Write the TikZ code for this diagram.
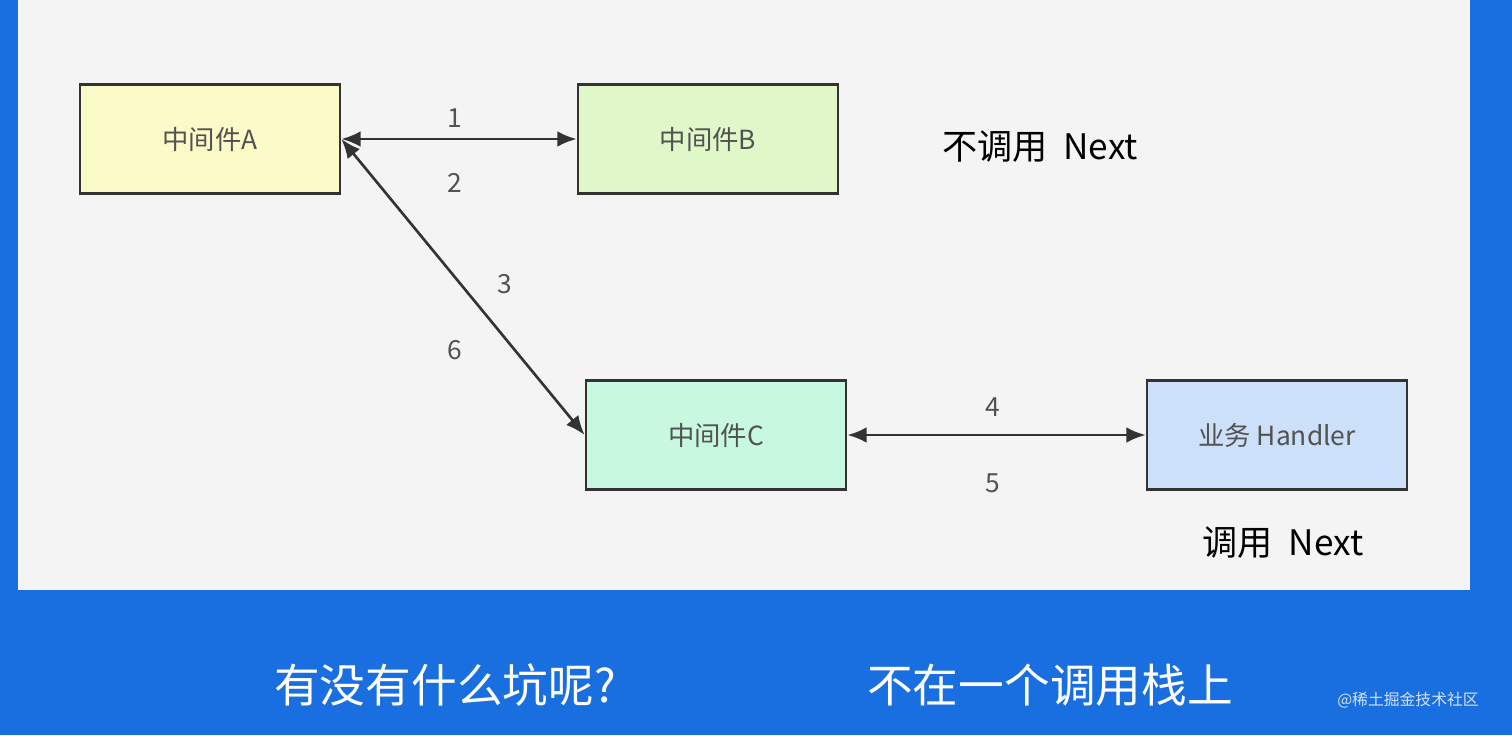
\documentclass[tikz,border=0pt]{standalone}
\usepackage{fontspec}
\setmainfont{Noto Sans CJK SC}
\usetikzlibrary{arrows.meta}
\definecolor{bgblue}{HTML}{1A6FE0}
\definecolor{panel}{HTML}{F4F4F4}
\definecolor{yelA}{HTML}{FBFBC8}
\definecolor{grnB}{HTML}{E0F8C8}
\definecolor{grnC}{HTML}{C8F8E0}
\definecolor{bluH}{HTML}{CCE0FA}
\definecolor{txt}{HTML}{333333}
\tikzset{
  mw/.style={draw=txt, line width=1.6pt, minimum width=5.2cm, minimum height=2.18cm, font=\fontsize{15}{18}\selectfont, text=txt!85},
  link/.style={line width=1.5pt, draw=txt, {Latex[length=11pt,width=9pt]}-{Latex[length=11pt,width=9pt]}},
  num/.style={font=\fontsize{15}{18}\selectfont, text=txt!85}
}
\begin{document}
\begin{tikzpicture}[x=0.02cm,y=-0.02cm]
  \fill[bgblue] (0,0) rectangle (1512,735);
  \fill[panel] (18,0) rectangle (1470,590);

  \node[mw, fill=yelA] (A) at (210,139) {中间件A};
  \node[mw, fill=grnB] (B) at (708,139) {中间件B};
  \node[mw, fill=grnC] (C) at (716,435) {中间件C};
  \node[mw, fill=bluH] (H) at (1277,435) {业务 Handler};

  \draw[link] (A.east) -- (B.west);
  \draw[link] (A.east) -- (C.west);
  \draw[link] (C.east) -- (H.west);

  \node[num] (n1) at (455,118) {1};
  \node[num] (n2) at (455,183) {2};
  \node[num] (n3) at (505,284) {3};
  \node[num] (n6) at (455,350) {6};
  \node[num] (n4) at (993,407) {4};
  \node[num] (n5) at (993,483) {5};

  \node[font=\fontsize{20}{24}\selectfont] (skip) at (1040,147) {不调用\ \ Next};
  \node[font=\fontsize{20}{24}\selectfont] (call) at (1283,543) {调用\ \ Next};

  \node[font=\fontsize{26}{30}\selectfont, text=white] (q) at (445,685) {有没有什么坑呢?};
  \node[font=\fontsize{26}{30}\selectfont, text=white] (a) at (1050,685) {不在一个调用栈上};
  \node[font=\fontsize{9}{11}\selectfont, text=white!80!bgblue] (wm) at (1408,700) {@稀土掘金技术社区};
\end{tikzpicture}
\end{document}
